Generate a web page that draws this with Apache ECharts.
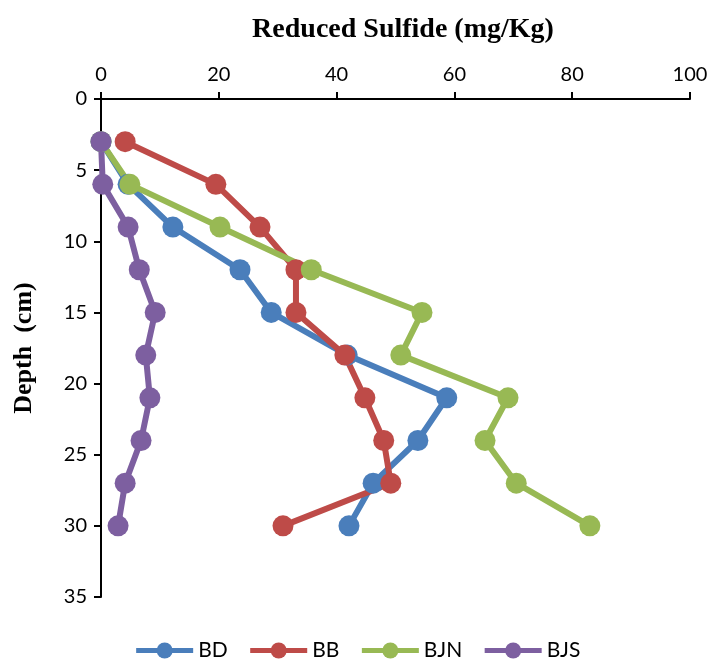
<!DOCTYPE html>
<html>
<head>
<meta charset="utf-8">
<script src="https://cdn.jsdelivr.net/npm/echarts@6/dist/echarts.min.js"></script>
<style>
  html, body { margin: 0; padding: 0; background: #fff; }
  #chart { width: 714px; height: 659px; }
</style>
</head>
<body>
<div id="chart"></div>
<script>
const depth = [3, 6, 9, 12, 15, 18, 21, 24, 27, 30]
const bd  = [0, 4.6, 12.2, 23.6, 28.9, 41.8, 58.7, 53.8, 46.2, 42.1]
const bb  = [4.1, 19.5, 27, 33.1, 33.1, 41.4, 44.8, 48, 49.2, 30.9]
const bjn = [0, 4.9, 20.2, 35.7, 54.5, 50.9, 69.1, 65.2, 70.5, 83]
const bjs = [0, 0.3, 4.6, 6.5, 9.2, 7.6, 8.3, 6.8, 4.1, 2.9]

const names = ['BD', 'BB', 'BJN', 'BJS']
const colors = ['#4a7ebb', '#be4b48', '#98b954', '#7d5fa0']
const values = [bd, bb, bjn, bjs]

const chart = echarts.init(document.getElementById('chart'))

const series = values.map((vals, i) => ({
  name: names[i],
  type: 'line',
  data: vals.map((v, j) => [v, depth[j]]),
  symbol: 'circle',
  symbolSize: 21,
  lineStyle: { width: 6, color: colors[i] },
  itemStyle: { color: colors[i] },
  emphasis: { disabled: true },
}))

chart.setOption({
  animation: false,
  title: {
    text: 'Reduced Sulfide (mg/Kg)',
    left: 398,
    top: 11,
    textAlign: 'center',
    textStyle: { fontFamily: 'Liberation Serif', fontWeight: 'bold', fontSize: 28, color: '#000' },
  },
  legend: {
    data: names,
    bottom: -7,
    left: 'center',
    itemWidth: 57,
    itemHeight: 20,
    itemGap: 20,
    lineStyle: { width: 5 },
    textStyle: { fontFamily: 'Lato', fontSize: 21, color: '#000' },
  },
  grid: { left: 101, right: 24, top: 99, bottom: 62 },
  xAxis: {
    type: 'value',
    position: 'top',
    min: 0,
    max: 100,
    interval: 20,
    axisLine: { show: true, lineStyle: { color: '#000', width: 2 } },
    axisTick: { show: true, inside: false, length: 7, lineStyle: { color: '#000', width: 2 } },
    axisLabel: { color: '#000', fontFamily: 'Lato', fontSize: 20, margin: 14 },
    splitLine: { show: false },
  },
  yAxis: {
    type: 'value',
    inverse: true,
    min: 0,
    max: 35,
    interval: 5,
    name: 'Depth  (cm)',
    nameLocation: 'middle',
    nameRotate: 90,
    nameGap: 64,
    nameTextStyle: { fontFamily: 'Liberation Serif', fontWeight: 'bold', fontSize: 26, color: '#000' },
    axisLine: { show: true, lineStyle: { color: '#000', width: 2 } },
    axisTick: { show: true, length: 7, lineStyle: { color: '#000', width: 2 } },
    axisLabel: { color: '#000', fontFamily: 'Lato', fontSize: 20, margin: 14 },
    splitLine: { show: false },
  },
  series,
})
</script>
</body>
</html>
